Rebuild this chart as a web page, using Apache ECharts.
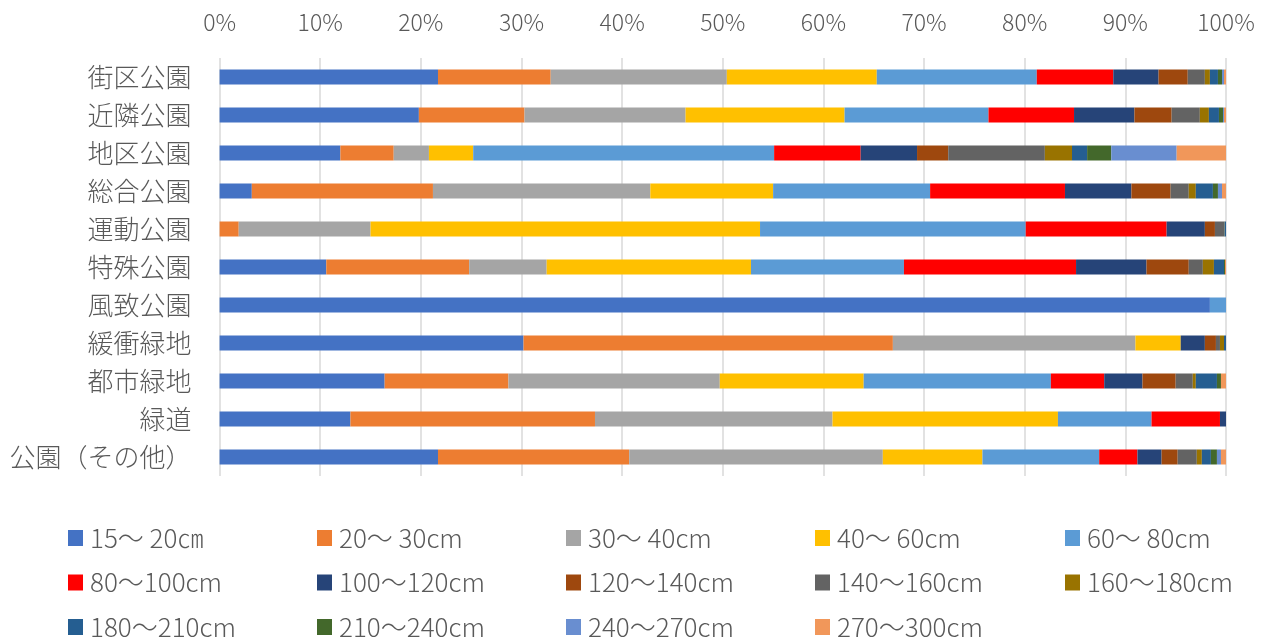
<!DOCTYPE html>
<html>
<head>
<meta charset="utf-8">
<script src="https://cdn.jsdelivr.net/npm/echarts@6/dist/echarts.min.js"></script>
<style>html,body{margin:0;padding:0;background:#fff;}#main{width:1273px;height:637px;}</style>
</head>
<body>
<div id="main"></div>
<script>
const categories = ['街区公園','近隣公園','地区公園','総合公園','運動公園','特殊公園','風致公園','緩衝緑地','都市緑地','緑道','公園（その他）'];
const seriesNames = ['15～ 20㎝','20～ 30cm','30～ 40cm','40～ 60cm','60～ 80cm','80～100cm','100～120cm','120～140cm','140～160cm','160～180cm','180～210cm','210～240cm','240～270cm','270～300cm'];
const tickLabels = ['0%','10%','20%','30%','40%','50%','60%','70%','80%','90%','100%'];
// values per size class, in category order
const s15_20   = [21.7, 19.8, 12.0,  3.2,  0.0, 10.6, 98.4, 30.2, 16.4, 13.0, 21.7];
const s20_30   = [11.2, 10.5,  5.3, 18.0,  1.9, 14.2,  0.0, 36.7, 12.3, 24.3, 19.0];
const s30_40   = [17.5, 16.0,  3.5, 21.6, 13.1,  7.7,  0.0, 24.1, 21.0, 23.6, 25.2];
const s40_60   = [14.9, 15.8,  4.4, 12.2, 38.7, 20.3,  0.0,  4.5, 14.3, 22.4,  9.9];
const s60_80   = [15.9, 14.3, 29.9, 15.6, 26.4, 15.2,  1.6,  0.0, 18.6,  9.3, 11.6];
const s80_100  = [ 7.6,  8.5,  8.6, 13.4, 14.0, 17.1,  0.0,  0.0,  5.3,  6.8,  3.8];
const s100_120 = [ 4.5,  6.0,  5.6,  6.6,  3.8,  7.0,  0.0,  2.4,  3.8,  0.6,  2.4];
const s120_140 = [ 2.9,  3.7,  3.1,  3.9,  1.0,  4.2,  0.0,  1.1,  3.3,  0.0,  1.6];
const s140_160 = [ 1.7,  2.8,  9.6,  1.8,  0.9,  1.4,  0.0,  0.4,  1.7,  0.0,  1.9];
const s160_180 = [ 0.5,  0.9,  2.7,  0.7,  0.05, 1.1,  0.0,  0.4,  0.3,  0.0,  0.5];
const s180_210 = [ 0.8,  1.0,  1.5,  1.7,  0.15, 1.0,  0.0,  0.2,  2.1,  0.0,  0.9];
const s210_240 = [ 0.4,  0.4,  2.4,  0.5,  0.0,  0.1,  0.0,  0.0,  0.4,  0.0,  0.6];
const s240_270 = [ 0.2,  0.1,  6.5,  0.4,  0.0,  0.0,  0.0,  0.0,  0.0,  0.0,  0.4];
const s270_300 = [ 0.2,  0.2,  4.9,  0.4,  0.0,  0.1,  0.0,  0.0,  0.5,  0.0,  0.5];

const allValues = [s15_20,s20_30,s30_40,s40_60,s60_80,s80_100,s100_120,s120_140,s140_160,s160_180,s180_210,s210_240,s240_270,s270_300];
const colors = ['#4472C4','#ED7D31','#A5A5A5','#FFC000','#5B9BD5','#FF0000','#264478','#9E480E','#636363','#997300','#255E91','#43682B','#698ED0','#F1975A'];

const font = '"Noto Sans CJK JP", "Noto Sans", sans-serif';
const chart = echarts.init(document.getElementById('main'), null, {renderer:'canvas'});

const legendCols = [68, 317, 566, 815, 1065];
const legendRowCenters = [538, 582.5, 627];
const legends = seriesNames.map((n, i) => ({
  data: [n],
  left: legendCols[i % 5],
  top: legendRowCenters[Math.floor(i / 5)] - 13,
  itemWidth: 15,
  itemHeight: 16,
  itemGap: 0,
  icon: 'rect',
  selectedMode: false,
  padding: 0,
  textStyle: {color:'#595959', fontSize:26, fontWeight:300, lineHeight:26, fontFamily:font, padding:[0,0,0,2]}
}));

chart.setOption({
  animation: false,
  color: colors,
  grid: {left: 219.6, right: 47, top: 58, bottom: 161, containLabel: false},
  xAxis: {
    type: 'value', position: 'top', min: 0, max: 100, interval: 10,
    axisLine: {show:false}, axisTick: {show:false},
    axisLabel: {color:'#595959', fontSize:23, fontWeight:300, fontFamily:font, margin:24,
      formatter: function(v){ return tickLabels[Math.round(v/10)]; }},
    splitLine: {show:true, lineStyle:{color:'#d9d9d9', width:1.5}}
  },
  yAxis: {
    type: 'category', data: categories, inverse: true,
    axisLine: {show:false}, axisTick: {show:false},
    axisLabel: {color:'#595959', fontSize:26, fontWeight:300, fontFamily:font, margin:28}
  },
  legend: legends,
  series: seriesNames.map((n,i)=>({
    name: n, type: 'bar', stack: 'total', barWidth: 15,
    data: allValues[i],
    itemStyle: {color: colors[i]}
  }))
});
</script>
</body>
</html>
